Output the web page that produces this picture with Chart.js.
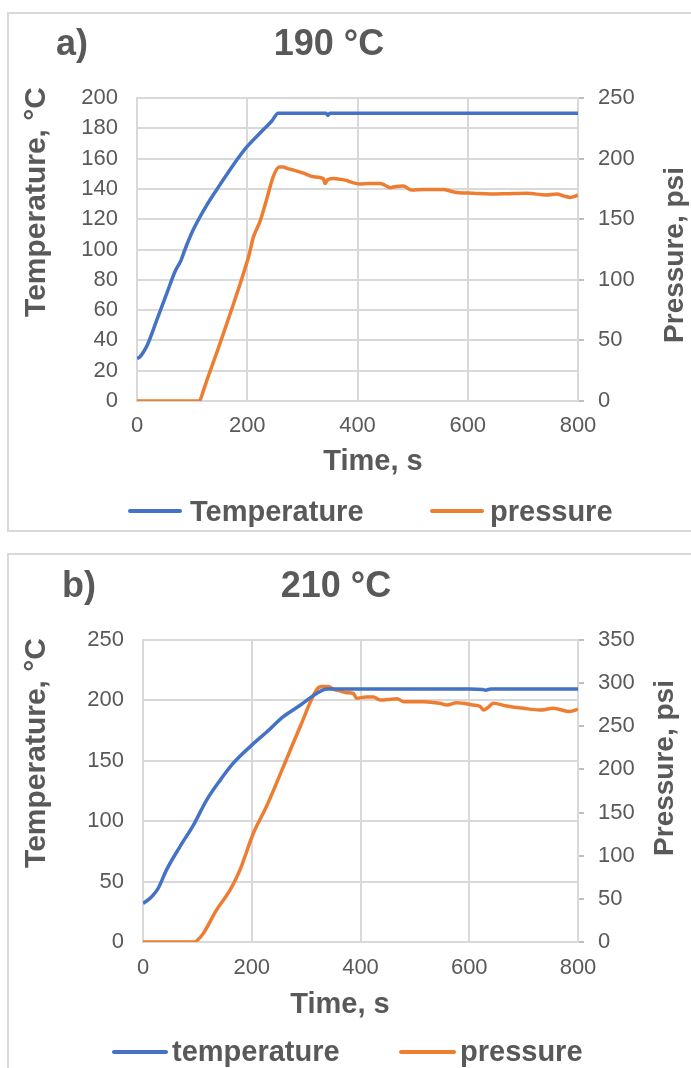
<!DOCTYPE html>
<html>
<head>
<meta charset="utf-8">
<title>Temperature and pressure profiles</title>
<script src="https://cdn.jsdelivr.net/npm/chart.js@4.4.1/dist/chart.umd.min.js"></script>
<style>
    body { margin: 0; background: #fff; }
    .page { position: relative; width: 691px; height: 1068px; overflow: hidden; background: #fff; }
    .frame { position: absolute; border: 2px solid #d9d9d9; box-sizing: border-box; }
    #frameA { left: 7px; top: 12px; width: 700px; height: 520px; }
    #frameB { left: 7px; top: 553px; width: 700px; height: 540px; }
    canvas { position: absolute; left: 0; }
    #chartA { top: 0; }
    #chartB { top: 540px; }
</style>
</head>
<body>
<div class="page">
    <div class="frame" id="frameA"></div>
    <div class="frame" id="frameB"></div>
    <canvas id="chartA" width="691" height="540"></canvas>
    <canvas id="chartB" width="691" height="528"></canvas>
</div>
<script>
// Panel a) - 190 °C run
const timeTempA = [0, 5, 12, 20, 36, 54, 69, 80, 87, 102, 126, 150, 175, 200, 229, 245, 256, 300, 343, 346, 350, 400, 500, 600, 700, 800];
const tempA = [28, 29, 32.5, 38, 53.5, 71, 85.5, 93, 100, 113, 129, 142.5, 156, 168, 179, 185, 190, 190, 190, 188.5, 190, 190, 190, 190, 190, 190];
const timePressA = [0, 113, 120, 129, 144, 157, 175, 193, 203, 211, 223, 235, 247, 258, 265, 275, 284, 302, 320, 338, 341, 346, 356, 368, 380, 386, 404, 420, 441, 450, 459, 470, 483, 498, 520, 556, 570, 580, 610, 640, 670, 707, 743, 761, 775, 786, 795, 800];
const pressA = [0, 0, 8, 20, 39, 56, 80, 105, 120, 135, 148, 166, 185, 193, 193, 191.5, 190.5, 188, 185, 183.5, 179.5, 182.5, 183.5, 183, 182, 181, 179, 179.5, 179.5, 178, 176, 177, 177.4, 174, 174.5, 174.6, 173, 172, 171.5, 170.8, 171, 171.4, 170, 170.8, 169, 168, 169, 170];

// Panel b) - 210 °C run
const timeTempB = [0, 2, 16, 28, 43, 68, 93, 117, 142, 166, 200, 228, 258, 289, 320, 338, 350, 400, 500, 600, 625, 630, 640, 700, 800];
const tempB = [32, 32.5, 37.5, 44.5, 59.5, 79, 97, 117.5, 134, 148, 163, 174, 186.5, 196, 206, 209.5, 209.5, 209.5, 209.5, 209.5, 209, 208.5, 209.5, 209.5, 209.5];
const timePressB = [0, 95, 100, 111, 135, 160, 178, 203, 227, 258, 289, 319, 329, 341, 350, 362, 374, 387, 393, 410, 424, 436, 450, 467, 479, 516, 546, 559, 577, 607, 620, 626, 635, 644, 669, 700, 730, 755, 785, 800];
const pressB = [0, 0, 2, 10, 37, 60, 83, 126, 157, 203, 249.5, 292, 296, 296, 293, 291, 289, 288, 282.4, 284, 284, 280.5, 281, 282, 278.5, 278.5, 276.6, 274.7, 277.3, 274.7, 273, 269, 272, 276.6, 273.5, 270.8, 268.9, 270.8, 267, 269.7];

// Axis ticks
const timeTicks = [0, 200, 400, 600, 800];
const tempTicksA = [0, 20, 40, 60, 80, 100, 120, 140, 160, 180, 200];
const pressTicksA = [0, 50, 100, 150, 200, 250];
const tempTicksB = [0, 50, 100, 150, 200, 250];
const pressTicksB = [0, 50, 100, 150, 200, 250, 300, 350];

const BLUE = '#4472C4';
const ORANGE = '#ED7D31';
const TEXT_COLOR = '#595959';
const GRID_COLOR = '#d9d9d9';
const FAMILY = "'Liberation Sans', Arial, sans-serif";

Chart.defaults.font.family = FAMILY;
Chart.defaults.color = TEXT_COLOR;

function toPoints(xs, ys) {
    return xs.map((x, i) => ({ x: x, y: ys[i] }));
}

// Draws titles, axis titles and the legend at fixed spots
function makeTextPlugin(texts, legendItems) {
    return {
        id: 'panelText',
        afterDraw(chart) {
            const ctx = chart.ctx;
            ctx.save();
            texts.forEach(t => {
                ctx.save();
                ctx.fillStyle = TEXT_COLOR;
                ctx.font = t.font;
                ctx.textAlign = t.align || 'left';
                ctx.textBaseline = 'alphabetic';
                ctx.translate(t.x, t.y);
                if (t.rotate) ctx.rotate(-Math.PI / 2);
                ctx.fillText(t.text, 0, 0);
                ctx.restore();
            });

            // Legend
            chart.data.datasets.forEach((ds, i) => {
                const item = legendItems[i];
                ctx.strokeStyle = ds.borderColor;
                ctx.lineWidth = 4;
                ctx.lineCap = 'round';
                ctx.beginPath();
                ctx.moveTo(item.x1, item.y);
                ctx.lineTo(item.x2, item.y);
                ctx.stroke();
                ctx.fillStyle = TEXT_COLOR;
                ctx.font = 'bold 29px ' + FAMILY;
                ctx.textAlign = 'left';
                ctx.textBaseline = 'alphabetic';
                ctx.fillText(ds.label, item.textX, item.baseline);
            });
            ctx.restore();
        }
    };
}

function fixedWidth(w) {
    return function(scale) { scale.width = w; };
}

function fixedHeight(h) {
    return function(scale) { scale.height = h; };
}

function buildChart(canvasId, cfg) {
    const tempTicks = cfg.tempTicks;
    const pressTicks = cfg.pressTicks;

    return new Chart(document.getElementById(canvasId), {
        type: 'line',
        data: {
            datasets: [{
                label: cfg.tempLabel,
                data: toPoints(cfg.timeTemp, cfg.temp),
                borderColor: BLUE,
                backgroundColor: BLUE,
                borderWidth: 3.5,
                pointRadius: 0,
                cubicInterpolationMode: 'monotone',
                yAxisID: 'yTemp'
            }, {
                label: 'pressure',
                data: toPoints(cfg.timePress, cfg.press),
                borderColor: ORANGE,
                backgroundColor: ORANGE,
                borderWidth: 3.5,
                pointRadius: 0,
                cubicInterpolationMode: 'monotone',
                yAxisID: 'yPress'
            }]
        },
        options: {
            responsive: false,
            animation: false,
            layout: {
                padding: cfg.padding
            },
            plugins: {
                legend: { display: false },
                title: { display: false },
                tooltip: { enabled: false }
            },
            scales: {
                x: {
                    type: 'linear',
                    min: timeTicks[0],
                    max: timeTicks[timeTicks.length - 1],
                    afterFit: fixedHeight(60),
                    ticks: {
                        stepSize: timeTicks[1] - timeTicks[0],
                        padding: cfg.xTickPad,
                        font: { size: 22 },
                        color: TEXT_COLOR
                    },
                    grid: {
                        color: GRID_COLOR,
                        lineWidth: 2,
                        drawTicks: false
                    },
                    border: { color: GRID_COLOR, width: 2 }
                },
                yTemp: {
                    position: 'left',
                    min: tempTicks[0],
                    max: tempTicks[tempTicks.length - 1],
                    afterFit: fixedWidth(60),
                    ticks: {
                        stepSize: tempTicks[1] - tempTicks[0],
                        padding: 19,
                        font: { size: 22 },
                        color: TEXT_COLOR
                    },
                    grid: {
                        color: GRID_COLOR,
                        lineWidth: 2,
                        drawTicks: false
                    },
                    border: { color: GRID_COLOR, width: 2 }
                },
                yPress: {
                    position: 'right',
                    min: pressTicks[0],
                    max: pressTicks[pressTicks.length - 1],
                    afterFit: fixedWidth(60),
                    ticks: {
                        stepSize: pressTicks[1] - pressTicks[0],
                        padding: 14,
                        font: { size: 22 },
                        color: TEXT_COLOR
                    },
                    grid: {
                        color: '#bfbfbf',
                        lineWidth: 2,
                        drawOnChartArea: false,
                        drawTicks: true,
                        tickLength: 6
                    },
                    border: { color: GRID_COLOR, width: 2 }
                }
            }
        },
        plugins: [makeTextPlugin(cfg.texts, cfg.legend)]
    });
}

// Panel a
buildChart('chartA', {
    timeTemp: timeTempA, temp: tempA,
    timePress: timePressA, press: pressA,
    tempTicks: tempTicksA, pressTicks: pressTicksA,
    tempLabel: 'Temperature',
    padding: { left: 77, right: 53, top: 98, bottom: 79 },
    xTickPad: 12,
    texts: [
        { text: 'a)', x: 56, y: 55, font: 'bold 36px ' + FAMILY },
        { text: '190 °C', x: 329, y: 55, align: 'center', font: 'bold 36px ' + FAMILY },
        { text: 'Time, s', x: 373, y: 470, align: 'center', font: 'bold 29px ' + FAMILY },
        { text: 'Temperature, °C', x: 45, y: 202, align: 'center', rotate: true, font: 'bold 30px ' + FAMILY },
        { text: 'Pressure, psi', x: 683, y: 255, align: 'center', rotate: true, font: 'bold 28px ' + FAMILY }
    ],
    legend: [
        { x1: 130, x2: 180, y: 511, textX: 190, baseline: 521 },
        { x1: 432, x2: 482, y: 511, textX: 490, baseline: 521 }
    ]
});

// Panel b
buildChart('chartB', {
    timeTemp: timeTempB, temp: tempB,
    timePress: timePressB, press: pressB,
    tempTicks: tempTicksB, pressTicks: pressTicksB,
    tempLabel: 'temperature',
    padding: { left: 83, right: 53, top: 100, bottom: 66 },
    xTickPad: 13,
    texts: [
        { text: 'b)', x: 62, y: 57, font: 'bold 36px ' + FAMILY },
        { text: '210 °C', x: 336, y: 57, align: 'center', font: 'bold 36px ' + FAMILY },
        { text: 'Time, s', x: 340, y: 473, align: 'center', font: 'bold 29px ' + FAMILY },
        { text: 'Temperature, °C', x: 45, y: 213, align: 'center', rotate: true, font: 'bold 30px ' + FAMILY },
        { text: 'Pressure, psi', x: 673, y: 228, align: 'center', rotate: true, font: 'bold 28px ' + FAMILY }
    ],
    legend: [
        { x1: 114, x2: 166, y: 512, textX: 172, baseline: 521 },
        { x1: 401, x2: 454, y: 512, textX: 460, baseline: 521 }
    ]
});
</script>
</body>
</html>
